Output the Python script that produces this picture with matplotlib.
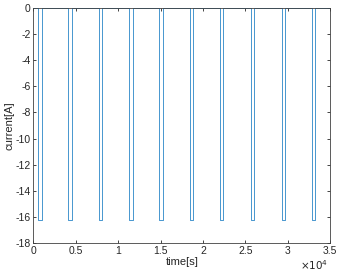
import numpy as np
import matplotlib
matplotlib.use("Agg")
import matplotlib.pyplot as plt

# pulse edges (seconds) and the pulse level (A)
pulse_start = [570, 4110, 7730, 11310, 14860, 18480, 22020, 25680, 29300, 32840]
pulse_end = [965, 4510, 8120, 11710, 15260, 18870, 22410, 26070, 29700, 33230]
pulse_level = -16.2
t_end = 35000

# step signal: 0 A idle, pulse_level during each discharge
t = [0]
cur = [0]
for s, e in zip(pulse_start, pulse_end):
    t += [s, s, e, e]
    cur += [0, pulse_level, pulse_level, 0]
t.append(t_end)
cur.append(0)

plt.rcParams['font.family'] = ['Liberation Sans', 'DejaVu Sans']
plt.rcParams['axes.unicode_minus'] = False
fig = plt.figure(figsize=(3.4, 2.74), dpi=100)
ax = fig.add_axes([0.0985, 0.113, 0.8725, 0.858])
ax.plot(t, cur, color='#2a86c8', lw=0.6)

ax.set_xlim(0, 35000)
ax.set_ylim(-18, 0)
ax.set_xticks(np.arange(0, 35001, 5000))
ax.set_xticklabels(['0', '0.5', '1', '1.5', '2', '2.5', '3', '3.5'])
ax.set_yticks(np.arange(-18, 1, 2))
ax.tick_params(direction='in', length=2.5, width=0.6, labelsize=7.5,
               colors='#262626', top=True, right=True, pad=2)
for sp in ax.spines.values():
    sp.set_color('#404040')
    sp.set_linewidth(0.6)
ax.set_xlabel('time[s]', fontsize=8, color='#262626', labelpad=1)
ax.set_ylabel('current[A]', fontsize=8, color='#262626', labelpad=1)
fig.text(0.965, 0.015, r'$\times 10^{4}$', fontsize=7.5, color='#262626', ha='right')

fig.savefig('out.png', dpi=100)
